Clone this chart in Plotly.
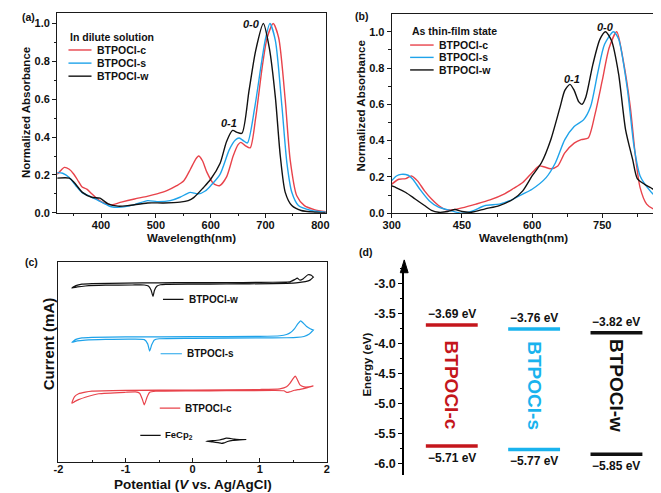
import plotly.graph_objects as go

W, H = 661, 493
F = "Liberation Sans, Arial, sans-serif"
RED = "#e8434b"
BLUE = "#1fa3ea"
BLACK = "#111111"
DRED = "#c4161c"
DBLUE = "#19b3ee"

names = ["BTPOCl-c", "BTPOCl-s", "BTPOCl-w"]

# ---------- (a) dilute solution ----------
a_c_x = [320, 327, 333, 342, 350, 359, 365, 374, 383, 392, 401, 413, 420, 437, 461, 484, 502, 520, 538, 551, 563, 572, 578, 585, 593, 605, 616, 629, 641, 650, 655, 663, 672, 682, 694, 703, 714, 724, 736, 745, 757, 771, 789, 810]
a_c_y = [0.203, 0.225, 0.24, 0.23, 0.205, 0.165, 0.138, 0.125, 0.10, 0.077, 0.058, 0.045, 0.042, 0.056, 0.073, 0.087, 0.10, 0.117, 0.143, 0.169, 0.23, 0.28, 0.30, 0.275, 0.215, 0.155, 0.143, 0.19, 0.30, 0.36, 0.372, 0.355, 0.343, 0.50, 0.77, 0.925, 1.0, 0.925, 0.595, 0.28, 0.09, 0.038, 0.017, 0.006]
a_s_x = [320, 330, 342, 354, 365, 383, 401, 419, 437, 461, 485, 502, 526, 544, 556, 563, 570, 578, 590, 600, 617, 634, 645, 652, 660, 667, 680, 692, 700, 708, 718, 730, 739, 748, 760, 783, 810]
a_s_y = [0.212, 0.209, 0.186, 0.143, 0.108, 0.082, 0.056, 0.032, 0.030, 0.043, 0.064, 0.059, 0.064, 0.082, 0.100, 0.108, 0.104, 0.100, 0.115, 0.143, 0.203, 0.334, 0.385, 0.395, 0.38, 0.369, 0.55, 0.78, 0.92, 1.0, 0.91, 0.56, 0.264, 0.108, 0.038, 0.012, 0.003]
a_w_x = [320, 342, 351, 366, 383, 398, 413, 431, 449, 485, 514, 544, 559, 569, 587, 600, 617, 629, 640, 648, 657, 670, 682, 696, 707, 718, 727, 736, 748, 765, 790, 810]
a_w_y = [0.183, 0.183, 0.16, 0.108, 0.082, 0.077, 0.047, 0.035, 0.038, 0.052, 0.052, 0.056, 0.064, 0.08, 0.134, 0.177, 0.26, 0.377, 0.435, 0.425, 0.42, 0.647, 0.856, 1.0, 0.87, 0.61, 0.30, 0.108, 0.038, 0.012, 0.003, 0.0]

# ---------- (b) thin film ----------
b_c_x = [300, 315, 330, 342, 355, 370, 385, 400, 415, 430, 450, 480, 510, 540, 560, 580, 600, 615, 625, 640, 655, 670, 690, 705, 720, 735, 750, 765, 781, 795, 810, 821, 831, 845, 859, 877]
b_c_y = [0.16, 0.187, 0.19, 0.205, 0.178, 0.123, 0.078, 0.042, 0.02, 0.018, 0.029, 0.05, 0.073, 0.105, 0.136, 0.169, 0.223, 0.26, 0.256, 0.245, 0.26, 0.332, 0.386, 0.405, 0.414, 0.55, 0.73, 0.913, 1.0, 0.84, 0.586, 0.314, 0.141, 0.05, 0.024, 0.015]
b_s_x = [300, 310, 320, 335, 345, 360, 380, 400, 425, 450, 470, 500, 530, 560, 580, 600, 630, 650, 670, 690, 710, 725, 740, 755, 774, 785, 804, 818, 831, 852, 877]
b_s_y = [0.18, 0.205, 0.214, 0.209, 0.187, 0.132, 0.069, 0.033, 0.015, 0.0, 0.009, 0.042, 0.05, 0.078, 0.105, 0.132, 0.196, 0.278, 0.405, 0.477, 0.514, 0.586, 0.768, 0.931, 1.0, 0.96, 0.68, 0.368, 0.205, 0.124, 0.06]
b_w_x = [300, 310, 330, 350, 370, 385, 400, 420, 435, 450, 470, 500, 530, 560, 580, 600, 620, 640, 660, 670, 681, 690, 700, 707, 715, 730, 745, 757, 770, 785, 800, 815, 825, 840, 854, 865, 877]
b_w_y = [0.15, 0.14, 0.114, 0.078, 0.042, 0.015, 0.005, 0.009, 0.02, 0.009, 0.005, 0.024, 0.042, 0.078, 0.123, 0.205, 0.278, 0.405, 0.586, 0.677, 0.71, 0.677, 0.613, 0.60, 0.64, 0.82, 0.958, 1.0, 0.95, 0.768, 0.459, 0.296, 0.19, 0.16, 0.14, 0.123, 0.114]

# ---------- (c) cyclic voltammetry (current in offset arbitrary units) ----------
cw_fwd_v = [-1.80, -1.74, -1.65, -1.50, -1.00, -0.50, 0.00, 0.50, 1.00, 1.40, 1.45, 1.52, 1.56, 1.60, 1.65, 1.72, 1.77, 1.80]
cw_fwd_i = [176.5, 179, 180.5, 181, 181.5, 181.8, 182, 182, 182.2, 182.6, 182.8, 185, 186.5, 184.5, 186, 190, 189.5, 187.5]
cw_rev_v = [1.80, 1.75, 1.68, 1.60, 1.50, 1.20, 0.50, 0.00, -0.40, -0.48, -0.53, -0.57, -0.59, -0.62, -0.66, -0.72, -0.90, -1.30, -1.60, -1.72, -1.80]
cw_rev_i = [187.5, 184.5, 183, 182.2, 181.5, 181, 180.6, 180.4, 180.2, 179.8, 178.5, 174, 168, 174.5, 178.5, 179.6, 179.6, 179.4, 178.6, 177.6, 176.5]

cs_fwd_v = [-1.80, -1.74, -1.65, -1.50, -1.00, 0.00, 1.00, 1.30, 1.40, 1.46, 1.52, 1.57, 1.61, 1.65, 1.70, 1.76, 1.80]
cs_fwd_i = [121.5, 124.5, 126, 126.5, 127, 127.3, 127.6, 128.2, 129.5, 131.5, 135.5, 140.5, 143.3, 141, 137.5, 135, 134]
cs_rev_v = [1.80, 1.74, 1.66, 1.55, 1.40, 1.00, 0.00, -0.50, -0.57, -0.61, -0.64, -0.67, -0.72, -0.90, -1.30, -1.60, -1.72, -1.80]
cs_rev_i = [134, 130, 127.5, 126.5, 126.2, 126, 125.6, 125.2, 124, 119, 112.7, 120, 124.3, 124.8, 124.5, 123.8, 123, 121.5]

cc_fwd_v = [-1.80, -1.76, -1.70, -1.60, -1.50, -1.00, 0.00, 1.00, 1.30, 1.40, 1.45, 1.50, 1.53, 1.56, 1.60, 1.66, 1.73, 1.80]
cc_fwd_i = [60, 66.7, 69.5, 71.2, 72.2, 73, 73.3, 73.8, 74.5, 76.5, 80, 85, 87.3, 84, 78.5, 76.5, 76.5, 77.5]
cc_rev_v = [1.80, 1.70, 1.60, 1.52, 1.45, 1.41, 1.36, 1.20, 0.50, 0.00, -0.55, -0.64, -0.68, -0.72, -0.75, -0.79, -0.85, -1.00, -1.40, -1.60, -1.70, -1.76, -1.80]
cc_rev_i = [77.5, 75.5, 74, 73, 71.5, 70.8, 72.5, 72.8, 72.6, 72.4, 72, 71, 66, 58.3, 64, 70, 71.3, 71, 69.5, 66, 63.5, 61.5, 60]

fc_fwd_v = [0.20, 0.30, 0.40, 0.45, 0.50, 0.55, 0.62, 0.70, 0.80]
fc_fwd_i = [21.5, 22, 22.7, 23.5, 24.5, 24.3, 23.5, 23.2, 23.2]
fc_rev_v = [0.80, 0.70, 0.60, 0.52, 0.47, 0.43, 0.38, 0.30, 0.20]
fc_rev_i = [23.2, 22.8, 22.3, 21.2, 19.8, 19.3, 20, 20.8, 21.5]

# ---------- (d) energy levels ----------
lumo = [-3.69, -3.76, -3.82]
homo = [-5.71, -5.77, -5.85]
e_ticks = [-3.0, -3.5, -4.0, -4.5, -5.0, -5.5, -6.0]
cv_ticks = [-2, -1, 0, 1, 2]


def pxX(p):
    return p / W


def pxY(p):
    return 1 - p / H


fig = go.Figure()

LW = 1.4
spl = dict(shape="spline", smoothing=0.7)

for xs, ys, col in [(a_c_x, a_c_y, RED), (a_s_x, a_s_y, BLUE), (a_w_x, a_w_y, BLACK)]:
    fig.add_trace(go.Scatter(x=xs, y=ys, mode="lines", line=dict(color=col, width=LW, **spl),
                             xaxis="x", yaxis="y", showlegend=False, hoverinfo="skip"))
for xs, ys, col in [(b_c_x, b_c_y, RED), (b_s_x, b_s_y, BLUE), (b_w_x, b_w_y, BLACK)]:
    fig.add_trace(go.Scatter(x=xs, y=ys, mode="lines", line=dict(color=col, width=LW, **spl),
                             xaxis="x2", yaxis="y2", showlegend=False, hoverinfo="skip"))
for fv, fi, rv, ri, col in [(cw_fwd_v, cw_fwd_i, cw_rev_v, cw_rev_i, BLACK),
                            (cs_fwd_v, cs_fwd_i, cs_rev_v, cs_rev_i, BLUE),
                            (cc_fwd_v, cc_fwd_i, cc_rev_v, cc_rev_i, RED),
                            (fc_fwd_v, fc_fwd_i, fc_rev_v, fc_rev_i, BLACK)]:
    fig.add_trace(go.Scatter(x=fv + rv, y=fi + ri, mode="lines",
                             line=dict(color=col, width=1.2, shape="spline", smoothing=0.5),
                             xaxis="x3", yaxis="y3", showlegend=False, hoverinfo="skip"))

dcols = [DRED, DBLUE, BLACK]
for i in range(3):
    for lev in (lumo[i], homo[i]):
        fig.add_trace(go.Scatter(x=[i - 0.315, i + 0.315], y=[lev, lev], mode="lines",
                                 line=dict(color=dcols[i], width=3.5),
                                 xaxis="x4", yaxis="y4", showlegend=False, hoverinfo="skip"))

AX = "#1a1a1a"
tf = dict(family=F, size=11, color="#111", weight="bold")
frame = dict(showline=True, linecolor=AX, linewidth=1.2, mirror=True, showgrid=False, zeroline=False,
             ticks="outside", ticklen=4, tickwidth=1.1, tickcolor=AX, tickfont=tf)
frame_x = dict(frame, ticklabelstandoff=-2)
frame_in = dict(frame, ticks="inside", ticklabelstandoff=-4)

fig.update_layout(
    width=W, height=H, margin=dict(l=0, r=0, t=0, b=0),
    paper_bgcolor="white", plot_bgcolor="white", showlegend=False,
    xaxis=dict(domain=[pxX(41), pxX(315)], range=[320, 810], anchor="y", dtick=100,
               minor=dict(dtick=50, ticklen=2.5, ticks="outside", tickcolor=AX), **frame_x),
    yaxis=dict(domain=[pxY(207.3), pxY(5)], range=[0, 1.056], anchor="x", dtick=0.2, tickformat=".1f",
               minor=dict(dtick=0.1, ticklen=2.5, ticks="outside", tickcolor=AX), **frame),
    xaxis2=dict(domain=[pxX(382.3), pxX(658.5)], range=[300, 879], anchor="y2", tick0=300, dtick=150,
                minor=dict(tick0=300, dtick=75, ticklen=2.5, ticks="outside", tickcolor=AX), **frame_x),
    yaxis2=dict(domain=[pxY(207.7), pxY(6)], range=[0, 1.098], anchor="x2", dtick=0.2, tickformat=".1f",
                minor=dict(dtick=0.1, ticklen=2.5, ticks="outside", tickcolor=AX), **frame),
    xaxis3=dict(domain=[pxX(42.3), pxX(316)], range=[-2, 2], anchor="y3", tickmode="array",
                tickvals=cv_ticks, ticktext=[str(v) for v in cv_ticks],
                minor=dict(tick0=-2, dtick=0.5, ticklen=2.5, ticks="inside", tickcolor=AX), **frame_in),
    yaxis3=dict(domain=[pxY(460), pxY(256.7)], range=[0, 203.3], anchor="x3", showline=True, linecolor=AX,
                linewidth=1.2, mirror=True, showgrid=False, zeroline=False, showticklabels=False, ticks=""),
    xaxis4=dict(domain=[pxX(395), pxX(655)], range=[-0.5774, 2.518], anchor="y4", visible=False),
    yaxis4=dict(domain=[pxY(473), pxY(262)], range=[-6.2, -2.72], anchor="x4", showline=True, linecolor="#000",
                linewidth=2, showgrid=False, zeroline=False, ticks="outside", ticklen=4, tickwidth=1.2,
                tickcolor="#000", tickmode="array", tickvals=e_ticks,
                ticktext=["%.1f" % v for v in e_ticks],
                tickfont=dict(family=F, size=12.5, color="#111", weight="bold"),
                minor=dict(tick0=-3, dtick=0.25, ticklen=2.5, ticks="outside", tickcolor="#000")),
)

ann = []


def txt(x, y, s, size=11, xref="paper", yref="paper", xanchor="center", yanchor="middle", angle=0,
        color="#111", italic=False, weight="bold"):
    ann.append(dict(x=x, y=y, xref=xref, yref=yref, text=s, showarrow=False, xanchor=xanchor,
                    yanchor=yanchor, textangle=angle,
                    font=dict(family=F, size=size, color=color, weight=weight,
                              style="italic" if italic else "normal")))


# panel labels
txt(pxX(3), pxY(9), "(a)", 10.5, xanchor="left")
txt(pxX(343), pxY(8), "(b)", 10.5, xanchor="left")
txt(pxX(6), pxY(257), "(c)", 10.5, xanchor="left")
txt(pxX(347), pxY(247), "(d)", 10.5, xanchor="left")

# axis titles
txt(pxX(8.5), pxY(106), "Normalized Absorbance", 11.5, angle=-90)
txt(pxX(178), pxY(232.5), "Wavelength(nm)", 11.5)
txt(pxX(350.5), pxY(99), "Normalized Absorbance", 11.5, angle=-90)
txt(pxX(517), pxY(232.5), "Wavelength(nm)", 11.5)
txt(pxX(32), pxY(340), "Current (mA)", 15, angle=-90)
txt(pxX(180), pxY(482), "Potential (<i>V</i> vs. Ag/AgCl)", 13.5)
txt(pxX(357), pxY(361), "Energy (eV)", 11.5, angle=-90)

# peak labels
txt(pxX(239.5), pxY(16), "0-0", 11, italic=True)
txt(pxX(216.5), pxY(116.5), "0-1", 11, italic=True)
txt(pxX(600), pxY(19.5), "0-0", 11, italic=True)
txt(pxX(566.5), pxY(72), "0-1", 11, italic=True)

shapes = []


def seg(x0, x1, y, col, w=1.4, xref="paper", yref="paper"):
    shapes.append(dict(type="line", x0=x0, x1=x1, y0=y, y1=y, xref=xref, yref=yref,
                       line=dict(color=col, width=w)))


# legend (a)
txt(pxX(52.5), pxY(29.5), "In dilute solution", 10.5, xanchor="left")
for nm, col, yy in zip(names, [RED, BLUE, BLACK], [42.5, 55.8, 69]):
    seg(pxX(52.5), pxX(76), pxY(yy), col)
    txt(pxX(79.5), pxY(yy), nm, 10.5, xanchor="left")
# legend (b)
txt(pxX(401), pxY(23.5), "As thin-film state", 10.5, xanchor="left")
for nm, col, yy in zip(names, [RED, BLUE, BLACK], [37.5, 50, 62.7]):
    seg(pxX(401), pxX(425), pxY(yy), col)
    txt(pxX(428.5), pxY(yy), nm, 10.5, xanchor="left")

# labels (c) in data coords
for nm, col, x0, x1, y in [("BTPOCl-w", BLACK, -0.442, -0.136, 165),
                           ("BTPOCl-s", BLUE, -0.477, -0.16, 110),
                           ("BTPOCl-c", RED, -0.49, -0.184, 55)]:
    seg(x0, x1, y, col, 1.2, "x3", "y3")
    txt(x1 + 0.045, y, nm, 10, "x3", "y3", xanchor="left")
seg(-0.78, -0.477, 27.3, BLACK, 1.2, "x3", "y3")
txt(-0.443, 27.3, "FeCp<sub>2</sub>", 9.5, "x3", "y3", xanchor="left")

# panel (d) labels
for i in range(3):
    txt(i, lumo[i], "−%.2f eV" % abs(lumo[i]), 12, "x4", "y4", yanchor="bottom")
    txt(i, homo[i], "−%.2f eV" % abs(homo[i]), 12, "x4", "y4", yanchor="top")
    txt(i, -4.7, names[i], 19, "x4", "y4", angle=90, color=dcols[i])

for a in ann:
    if a.get("yref") == "y4" and a["text"].endswith("eV"):
        a["yshift"] = 2 if a["yanchor"] == "bottom" else -3

# arrow head on the energy axis (triangle at the top of the axis line)
ax_x = pxX(395)
shapes.append(dict(type="path", xref="paper", yref="paper",
                   path="M %f %f L %f %f L %f %f Z" % (ax_x - 4 / W, pxY(268), ax_x + 4 / W, pxY(268), ax_x, pxY(255)),
                   fillcolor="#000", line=dict(color="#000", width=1)))

fig.update_layout(annotations=ann, shapes=shapes)
fig.write_html("out.html")
